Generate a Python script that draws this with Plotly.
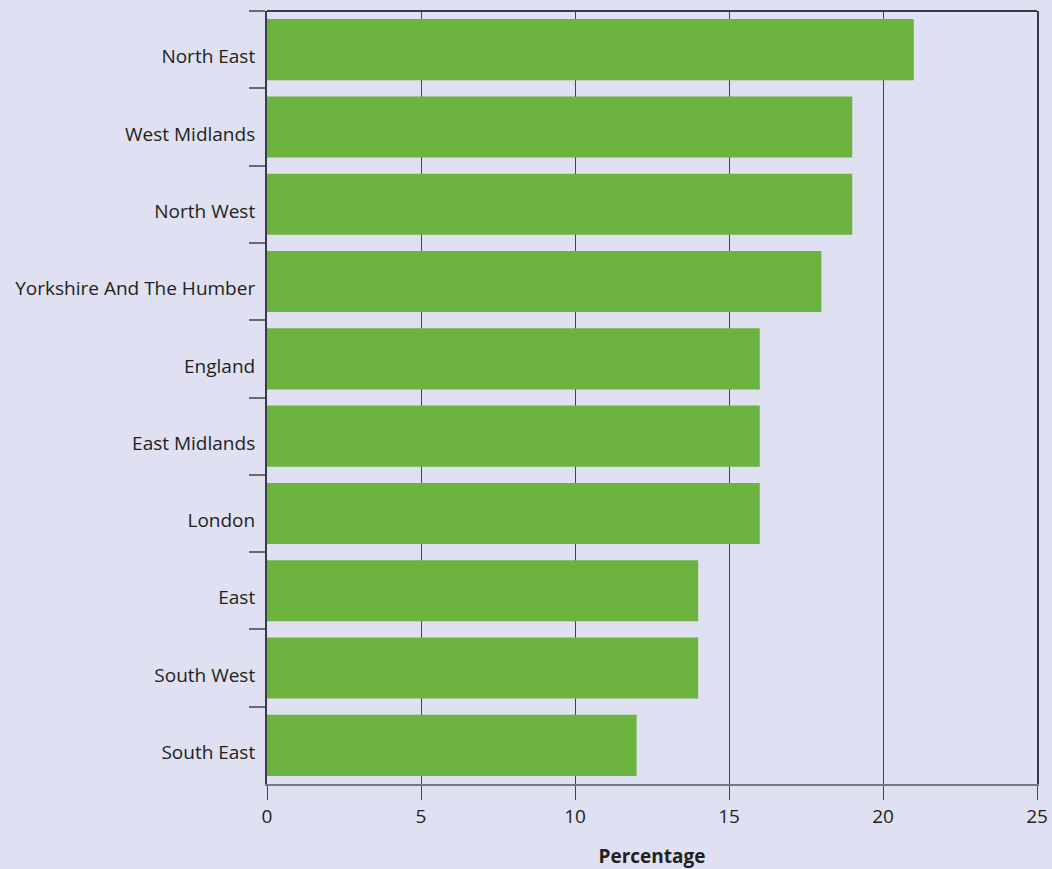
import plotly.graph_objects as go

regions = ["North East", "West Midlands", "North West", "Yorkshire And The Humber",
           "England", "East Midlands", "London", "East", "South West", "South East"]
values = [21, 19, 19, 18, 16, 16, 16, 14, 14, 12]
x_ticks = [0, 5, 10, 15, 20, 25]

BG = "#dfe0f1"
FONT = "Open Sans"

fig = go.Figure(go.Bar(
    x=values, y=regions, orientation="h",
    marker=dict(color="#6db33f", line=dict(width=0)),
    hoverinfo="x+y",
))

fig.update_layout(
    width=1052, height=869,
    margin=dict(l=267, r=15, t=11, b=85),
    paper_bgcolor=BG, plot_bgcolor=BG,
    bargap=0.21,
    showlegend=False,
    font=dict(family=FONT, size=19, color="#231f20"),
    xaxis=dict(
        range=[0, 25], tickvals=x_ticks, ticktext=[str(v) for v in x_ticks],
        showgrid=True, gridcolor="#44444f", gridwidth=1.3,
        zeroline=False, automargin=False,
        showline=True, linecolor="#77777f", linewidth=2,
        ticks="outside", ticklen=14, tickcolor="#44444f", tickwidth=1.3,
        title=dict(text="<b>Percentage</b>", font=dict(size=19, family=FONT), standoff=26),
        fixedrange=True,
    ),
    yaxis=dict(
        categoryorder="array", categoryarray=regions, autorange="reversed",
        showgrid=False, zeroline=False, automargin=False,
        showline=True, linecolor="#3a3a48", linewidth=2, mirror=True,
        ticks="outside", tickson="boundaries", ticklen=16, tickcolor="#6a6a74", tickwidth=2,
        ticklabelstandoff=6, ticklabelshift=-7,
        fixedrange=True,
    ),
    shapes=[dict(type="line", xref="paper", yref="paper", x0=0, x1=1, y0=1, y1=1,
                 line=dict(color="#3a3a48", width=2))],
)

fig.write_html("out.html")
